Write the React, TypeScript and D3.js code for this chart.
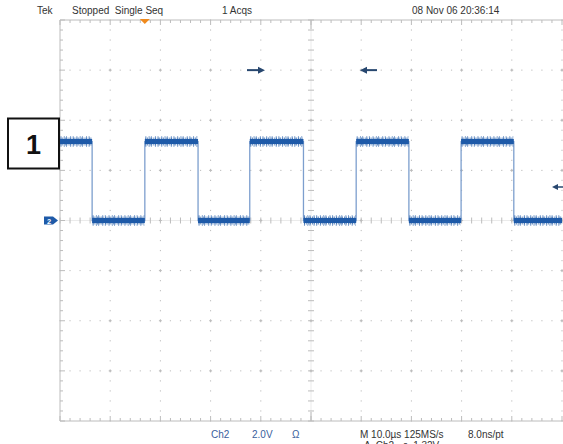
import React from "react";
import * as d3 from "d3";

// Horizontal: 10 divisions x 10 µs ; Vertical: 8 divisions x 2.0 V
const timeDomain = [0, 100];
const voltDomain = [-8, 8];
// Edge times of the square wave (µs), alternating fall / rise
const edgeTimes = [6.4, 16.9, 27.5, 37.8, 48.5, 59.0, 69.5, 79.9, 90.4];
// Level of each segment between edges (V)
const segmentLevels = [3.15, 0, 3.15, 0, 3.15, 0, 3.15, 0, 3.15, 0];

const topLabels = ["Tek", "Stopped  Single Seq", "1 Acqs", "08 Nov 06 20:36:14"];
const bottomChLabels = ["Ch2", "2.0V", "Ω"];
const bottomTimeLabels = ["M 10.0µs 125MS/s", "8.0ns/pt"];
const triggerLabel = "A  Ch2  ↗  1.32V";

const W = 563;
const H = 444;
const L = 60, R = 562, T = 20, B = 421;

export default function App() {
  const x = d3.scaleLinear().domain(timeDomain).range([L, R]);
  const y = d3.scaleLinear().domain(voltDomain).range([B, T]);

  const majorX = d3.range(0, 101, 10);
  const majorY = d3.range(-8, 8.01, 2);
  const minorX = d3.range(0, 100.01, 2);
  const minorY = d3.range(-8, 8.01, 0.4);
  const gridColor = "#bcbcbc";

  const bounds = [timeDomain[0], ...edgeTimes, timeDomain[1]];
  const segments = segmentLevels.map((v, i) => ({ t0: bounds[i], t1: bounds[i + 1], v }));

  const linePath = d3.line<[number, number]>().x((d) => x(d[0])).y((d) => y(d[1]));
  const tracePts: [number, number][] = [];
  segments.forEach((s) => {
    tracePts.push([s.t0, s.v]);
    tracePts.push([s.t1, s.v]);
  });

  const traceColor = "#1e5aa8";
  const font = "'Liberation Sans', Arial, sans-serif";

  return (
    <svg width={W} height={H} style={{ position: "absolute", left: 0, top: 0, background: "#fff" }}>
      <rect x={0} y={0} width={W} height={H} fill="#fff" />
      {/* graticule dots on major lines */}
      <g stroke={gridColor} strokeWidth={1}>
        {majorX.slice(1).map((t) =>
          t === 50
            ? null
            : minorY.map((v, i) => (
                <line key={`vx${t}-${i}`} x1={x(t)} x2={x(t)} y1={y(v) - 0.6} y2={y(v) + 0.6} />
              ))
        )}
        {majorY.slice(1, -1).map((v) =>
          v === 0
            ? null
            : minorX.map((t, i) => (
                <line key={`hy${v}-${i}`} x1={x(t) - 0.6} x2={x(t) + 0.6} y1={y(v)} y2={y(v)} />
              ))
        )}
        {majorX.slice(1).map((t) =>
          majorY.slice(1, -1).map((v) => (
            <g key={`c${t}${v}`}>
              <line x1={x(t) - 1.5} x2={x(t) + 1.5} y1={y(v)} y2={y(v)} />
              <line x1={x(t)} x2={x(t)} y1={y(v) - 1.5} y2={y(v) + 1.5} />
            </g>
          ))
        )}
        {/* center lines */}
        <line x1={x(50)} x2={x(50)} y1={T} y2={B} strokeOpacity={0.3} />
        <line x1={L} x2={R} y1={y(0)} y2={y(0)} strokeOpacity={0.3} />
        {minorY.map((v, i) => (
          <line key={`cy${i}`} x1={x(50) - 3} x2={x(50) + 3} y1={y(v)} y2={y(v)} />
        ))}
        {minorX.map((t, i) => (
          <line key={`cx${i}`} x1={x(t)} x2={x(t)} y1={y(0) - 3} y2={y(0) + 3} />
        ))}
        {/* frame */}
        <line x1={L} x2={L} y1={T} y2={B} />
        <line x1={L} x2={R + 2} y1={T} y2={T} />
        <line x1={L} x2={R + 2} y1={B} y2={B} />
        {minorX.map((t, i) => (
          <g key={`ft${i}`}>
            <line x1={x(t)} x2={x(t)} y1={T} y2={T + (i % 5 === 0 ? 5 : 3)} />
            <line x1={x(t)} x2={x(t)} y1={B} y2={B - (i % 5 === 0 ? 5 : 3)} />
          </g>
        ))}
        {minorY.map((v, i) => (
          <line key={`fl${i}`} x1={L} x2={L + (i % 5 === 0 ? 5 : 3)} y1={y(v)} y2={y(v)} />
        ))}
        <line x1={x(50)} x2={x(50)} y1={T} y2={T + 9} />
        <line x1={x(50)} x2={x(50)} y1={B} y2={B - 9} />
      </g>

      {/* trace */}
      <path d={linePath(tracePts) || ""} fill="none" stroke="#7d9fce" strokeWidth={1.3} />
      {segments.map((s, i) => (
        <g key={`s${i}`}>
          <line x1={x(s.t0) + 0.5} x2={x(s.t1) - 0.5} y1={y(s.v)} y2={y(s.v)} stroke={traceColor} strokeWidth={11} strokeDasharray="1 2.3 1 1.2 1 3.1 1 1.6 1 2.7" strokeOpacity={0.5} />
          <line x1={x(s.t0) + 0.5} x2={x(s.t1) - 0.5} y1={y(s.v)} y2={y(s.v)} stroke={traceColor} strokeWidth={8} strokeDasharray="1 0.8 1 1.5 1 0.6 1 1.1" strokeOpacity={0.7} />
          <line x1={x(s.t0)} x2={x(s.t1)} y1={y(s.v)} y2={y(s.v)} stroke={traceColor} strokeWidth={5} />
        </g>
      ))}

      {/* ch2 ground marker */}
      <g transform={`translate(44, ${y(0)})`}>
        <path d="M0,-4 L9,-4 L14,0 L9,4 L0,4 Z" fill={traceColor} />
        <text x={5} y={3} fontSize={7.5} fontWeight="bold" fill="#fff" textAnchor="middle" fontFamily={font}>2</text>
      </g>

      {/* trigger position marker */}
      <path d={`M${x(17)},${T - 1} L${x(17) + 5},${T - 1} L${x(17)},${T + 4} L${x(17) - 5},${T - 1} Z`} fill="#f08a1c" transform="translate(-0.5,0)" />

      {/* arrows */}
      <g fill="#27476f" stroke="#27476f">
        <line x1={247} x2={259} y1={y(6)} y2={y(6)} strokeWidth={2} />
        <path d={`M258,${y(6) - 3.5} L265,${y(6)} L258,${y(6) + 3.5} Z`} stroke="none" />
        <line x1={366} x2={377} y1={y(6)} y2={y(6)} strokeWidth={2} />
        <path d={`M367,${y(6) - 3.5} L360,${y(6)} L367,${y(6) + 3.5} Z`} stroke="none" />
        <line x1={557} x2={563} y1={187} y2={187} strokeWidth={1.5} />
        <path d="M558,184 L552,187 L558,190 Z" stroke="none" />
      </g>

      {/* channel box */}
      <rect x={8} y={118.5} width={51} height={50} fill="#fff" stroke="#111" strokeWidth={2} />
      <text x={33.5} y={154} fontSize={27} fontWeight="bold" textAnchor="middle" fill="#111" fontFamily={font}>1</text>

      {/* top labels */}
      <g fontFamily={font} fontSize={10} fill="#333">
        <text x={37} y={14}>{topLabels[0]}</text>
        <text x={72} y={14} style={{ whiteSpace: "pre" }}>{topLabels[1]}</text>
        <text x={222} y={14}>{topLabels[2]}</text>
        <text x={412} y={14}>{topLabels[3]}</text>
      </g>
      {/* bottom labels */}
      <g fontFamily={font} fontSize={10}>
        <text x={211} y={438} fill="#3a5e9c">{bottomChLabels[0]}</text>
        <text x={252} y={438} fill="#3a5e9c">{bottomChLabels[1]}</text>
        <text x={292} y={438} fill="#3a5e9c">{bottomChLabels[2]}</text>
        <text x={360} y={438} fill="#333">{bottomTimeLabels[0]}</text>
        <text x={468} y={438} fill="#333">{bottomTimeLabels[1]}</text>
        <text x={364} y={449} fill="#333" style={{ whiteSpace: "pre" }}>{triggerLabel}</text>
      </g>
    </svg>
  );
}
